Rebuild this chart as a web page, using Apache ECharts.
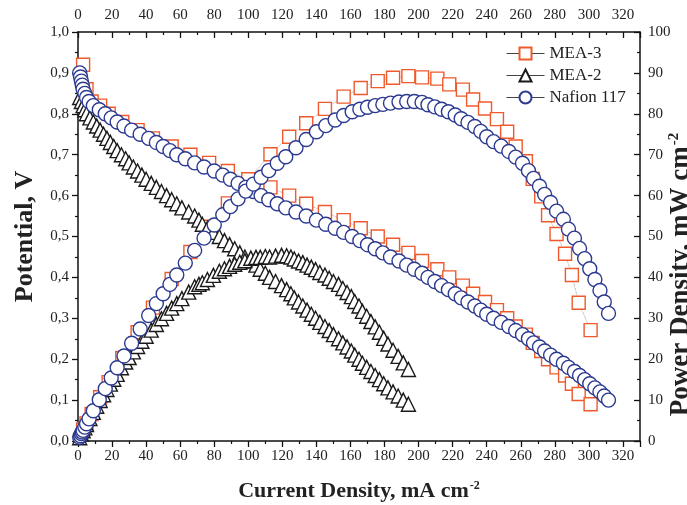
<!DOCTYPE html>
<html>
<head>
<meta charset="utf-8">
<script src="https://cdn.jsdelivr.net/npm/echarts@6/dist/echarts.min.js"></script>
<style>
html, body { margin: 0; padding: 0; background: #fff; }
#chart { width: 687px; height: 505px; }
</style>
</head>
<body>
<div id="chart"></div>
<script>
// tick labels
var xTickLabels = [0, 20, 40, 60, 80, 100, 120, 140, 160, 180, 200, 220, 240, 260, 280, 300, 320];
var leftTickLabels = ['0,0', '0,1', '0,2', '0,3', '0,4', '0,5', '0,6', '0,7', '0,8', '0,9', '1,0'];
var rightTickLabels = [0, 10, 20, 30, 40, 50, 60, 70, 80, 90, 100];

// MEA-3 (squares)
var mea3Current = [3, 5, 8, 13, 18, 26, 35, 44, 55, 66, 77, 88, 100, 113, 124, 134, 145, 156, 166, 176,
    185, 194, 202, 211, 218, 226, 232, 239, 246, 252, 257, 263, 267, 272, 276, 281, 286, 290, 294, 301];
var mea3Potential = [0.92, 0.86, 0.83, 0.82, 0.80, 0.78, 0.76, 0.74, 0.72, 0.70, 0.68, 0.66, 0.64, 0.62, 0.60, 0.58, 0.56, 0.54, 0.52, 0.50,
    0.48, 0.46, 0.44, 0.42, 0.40, 0.38, 0.36, 0.34, 0.32, 0.30, 0.28, 0.26, 0.24, 0.22, 0.20, 0.18, 0.16, 0.14, 0.115, 0.09];
var mea3Power = [2.8, 4.3, 6.6, 10.7, 14.4, 20.3, 26.6, 32.6, 39.6, 46.2, 52.4, 58.1, 64.0, 70.1, 74.4, 77.7, 81.2, 84.2, 86.3, 88.0,
    88.8, 89.2, 88.9, 88.6, 87.2, 85.9, 83.5, 81.3, 78.7, 75.6, 72.0, 68.4, 64.1, 59.8, 55.2, 50.6, 45.8, 40.6, 33.8, 27.1];

// MEA-2 (triangles)
var mea2Current = [1, 2, 3, 4, 5, 7, 9, 11, 13, 15, 17, 19, 21, 23, 25.5, 28, 30, 32.5, 35, 37.5,
    40, 43, 46, 49, 52, 55, 58, 61, 65, 68.5, 71, 73, 76, 79.5, 83, 86, 89, 92, 95, 98,
    101.5, 104.5, 107, 110, 112.5, 116, 119.5, 122.5, 125, 127, 129.5, 132, 134.5, 137, 139.5, 142, 145, 147.5, 150, 153,
    155.5, 158, 160.5, 162.5, 165, 167, 169.5, 172, 174.5, 177, 179.5, 182, 185, 188, 191, 194];
var mea2Potential = [0.84, 0.83, 0.82, 0.81, 0.80, 0.79, 0.78, 0.77, 0.76, 0.75, 0.74, 0.73, 0.72, 0.71, 0.70, 0.69, 0.68, 0.67, 0.66, 0.65,
    0.64, 0.63, 0.62, 0.61, 0.60, 0.59, 0.58, 0.57, 0.56, 0.55, 0.54, 0.53, 0.52, 0.51, 0.50, 0.49, 0.48, 0.47, 0.46, 0.45,
    0.44, 0.43, 0.42, 0.41, 0.40, 0.39, 0.38, 0.37, 0.36, 0.35, 0.34, 0.33, 0.32, 0.31, 0.30, 0.29, 0.28, 0.27, 0.26, 0.25,
    0.24, 0.23, 0.22, 0.21, 0.20, 0.19, 0.18, 0.17, 0.16, 0.15, 0.14, 0.13, 0.12, 0.11, 0.10, 0.09];
var mea2Power = [0.8, 1.7, 2.5, 3.2, 4.0, 5.5, 7.0, 8.5, 9.9, 11.3, 12.6, 13.9, 15.1, 16.3, 17.9, 19.3, 20.4, 21.8, 23.1, 24.4,
    25.6, 27.1, 28.5, 29.9, 31.2, 32.5, 33.6, 34.8, 36.4, 37.7, 38.3, 38.7, 39.5, 40.5, 41.5, 42.1, 42.7, 43.2, 43.7, 44.1,
    44.7, 44.9, 44.9, 45.1, 45.0, 45.2, 45.4, 45.3, 45.0, 44.5, 44.0, 43.6, 43.0, 42.5, 41.9, 41.2, 40.6, 39.8, 39.0, 38.3,
    37.3, 36.3, 35.3, 34.1, 33.0, 31.7, 30.5, 29.2, 27.9, 26.6, 25.1, 23.7, 22.2, 20.7, 19.1, 17.5];

// Nafion 117 (circles)
var nafionCurrent = [1, 1.5, 2, 2.5, 3, 4, 5, 6.5, 9, 12.5, 16, 19.5, 23, 27, 31.5, 36.5, 41.5, 46, 50, 54,
    58, 63, 68.5, 74, 80, 85, 89.5, 94, 98.5, 103, 107.5, 112, 117, 122, 128, 134, 140, 145.5, 151, 156,
    161, 165.5, 170, 174.5, 179, 183.5, 188.5, 193, 197.5, 202, 205.5, 209.5, 213.5, 217.5, 221.5, 225, 229, 233, 236.5, 240,
    244, 248.5, 253, 257, 261, 264.5, 267.5, 271, 274, 277.5, 281, 285, 288, 291.5, 294.5, 297.5, 300.5, 303.5, 306.5, 309, 311.5];
var nafionPotential = [0.90, 0.89, 0.88, 0.87, 0.86, 0.85, 0.84, 0.83, 0.82, 0.81, 0.80, 0.79, 0.78, 0.77, 0.76, 0.75, 0.74, 0.73, 0.72, 0.71,
    0.70, 0.69, 0.68, 0.67, 0.66, 0.65, 0.64, 0.63, 0.62, 0.61, 0.60, 0.59, 0.58, 0.57, 0.56, 0.55, 0.54, 0.53, 0.52, 0.51,
    0.50, 0.49, 0.48, 0.47, 0.46, 0.45, 0.44, 0.43, 0.42, 0.41, 0.40, 0.39, 0.38, 0.37, 0.36, 0.35, 0.34, 0.33, 0.32, 0.31,
    0.30, 0.29, 0.28, 0.27, 0.26, 0.25, 0.24, 0.23, 0.22, 0.21, 0.20, 0.19, 0.18, 0.17, 0.16, 0.15, 0.14, 0.13, 0.12, 0.11, 0.10];
var nafionPower = [0.9, 1.3, 1.8, 2.2, 2.6, 3.4, 4.2, 5.4, 7.4, 10.1, 12.8, 15.4, 17.9, 20.8, 23.9, 27.4, 30.7, 33.6, 36.0, 38.3,
    40.6, 43.5, 46.6, 49.6, 52.8, 55.3, 57.3, 59.2, 61.1, 62.8, 64.5, 66.1, 67.9, 69.5, 71.7, 73.7, 75.6, 77.1, 78.5, 79.6,
    80.5, 81.1, 81.6, 82.0, 82.3, 82.6, 82.9, 83.0, 83.0, 82.8, 82.2, 81.7, 81.1, 80.5, 79.7, 78.8, 77.9, 76.9, 75.7, 74.4,
    73.2, 72.1, 70.8, 69.4, 67.9, 66.1, 64.2, 62.3, 60.3, 58.3, 56.2, 54.2, 51.8, 49.6, 47.1, 44.6, 42.1, 39.5, 36.8, 34.0, 31.2];

var serif = 'Liberation Serif';
var supStyle = { fontFamily: serif, fontWeight: 'bold', fontSize: 12, verticalAlign: 'top', padding: [0, 0, 11, 1] };
var supStyleBig = { fontFamily: serif, fontWeight: 'bold', fontSize: 15, verticalAlign: 'top', padding: [0, 0, 13, 1] };

function pairs(xs, ys) {
    return xs.map(function (x, i) { return [x, ys[i]]; });
}

function makeSeries(name, symbol, size, color, yIndex, xs, ys) {
    return {
        name: name,
        type: 'line',
        yAxisIndex: yIndex,
        symbol: symbol,
        symbolSize: size,
        showAllSymbol: true,
        itemStyle: { color: '#fff', borderColor: color, borderWidth: 1.4 },
        lineStyle: { width: 0.7, type: 'dotted', color: '#777' },
        data: pairs(xs, ys)
    };
}

var axisLine = { show: true, onZero: false, lineStyle: { color: '#111', width: 1.5 } };

function xAxisCfg(pos) {
    var top = pos === 'top';
    return {
        type: 'value',
        position: pos,
        min: 0,
        max: 330,
        interval: 20,
        axisLine: axisLine,
        axisTick: { show: true, inside: top, length: 6, lineStyle: { color: '#111', width: 1.3 } },
        minorTick: { show: true, splitNumber: 2, length: 3, lineStyle: { color: '#111', width: 1.2 } },
        axisLabel: { showMaxLabel: false, margin: top ? 9 : 8, fontFamily: serif, fontSize: 15, color: '#222',
            formatter: function (v) { return xTickLabels.indexOf(v) >= 0 ? String(v) : ''; } },
        splitLine: { show: false },
        name: top ? '' : 'Current Density, mA cm{sup|-2}',
        nameLocation: 'middle',
        nameGap: 39,
        nameTextStyle: { fontFamily: serif, fontWeight: 'bold', fontSize: 22, color: '#222', rich: { sup: supStyle } }
    };
}

var chart = echarts.init(document.getElementById('chart'));

chart.setOption({
    animation: false,
    grid: { left: 78, right: 47, top: 32, bottom: 64, outerBoundsMode: 'none' },
    legend: {
        orient: 'vertical',
        left: 501,
        top: 40,
        itemWidth: 38,
        itemHeight: 15,
        itemGap: 5,
        textStyle: { fontFamily: serif, fontSize: 17, color: '#222' },
        lineStyle: { color: '#444', width: 1, type: 'solid', opacity: 1 },
        data: ['MEA-3', 'MEA-2', 'Nafion 117']
    },
    xAxis: [xAxisCfg('bottom'), xAxisCfg('top')],
    yAxis: [
        {
            type: 'value',
            position: 'left',
            min: 0, max: 1, interval: 0.1,
            axisLine: axisLine,
            axisTick: { show: true, length: 6, lineStyle: { color: '#111', width: 1.3 } },
            minorTick: { show: true, splitNumber: 2, length: 3, lineStyle: { color: '#111', width: 1.2 } },
            axisLabel: { margin: 9, fontFamily: serif, fontSize: 15, color: '#222',
                formatter: function (v) { return leftTickLabels[Math.round(v * 10)]; } },
            splitLine: { show: false },
            name: 'Potential, V',
            nameLocation: 'middle',
            nameGap: 40,
            nameMoveOverlap: false,
            nameTextStyle: { fontFamily: serif, fontWeight: 'bold', fontSize: 26, color: '#222' }
        },
        {
            type: 'value',
            position: 'right',
            min: 0, max: 100, interval: 10,
            axisLine: axisLine,
            axisTick: { show: true, inside: true, length: 6, lineStyle: { color: '#111', width: 1.3 } },
            minorTick: { show: true, splitNumber: 2, length: 3, lineStyle: { color: '#111', width: 1.2 } },
            axisLabel: { margin: 8, fontFamily: serif, fontSize: 15, color: '#222',
                formatter: function (v) { return String(rightTickLabels[Math.round(v / 10)]); } },
            splitLine: { show: false },
            name: 'Power Density, mW cm{sup|-2}',
            nameLocation: 'middle',
            nameGap: 27,
            nameMoveOverlap: false,
            nameTextStyle: { fontFamily: serif, fontWeight: 'bold', fontSize: 27, color: '#222',
                padding: [0, 76, 0, 0], rich: { sup: supStyleBig } }
        }
    ],
    series: [
        makeSeries('MEA-3', 'rect', 13, '#ef5a2c', 0, mea3Current, mea3Potential),
        makeSeries('MEA-3', 'rect', 13, '#ef5a2c', 1, mea3Current, mea3Power),
        makeSeries('MEA-2', 'triangle', 14, '#1a1a1a', 0, mea2Current, mea2Potential),
        makeSeries('MEA-2', 'triangle', 14, '#1a1a1a', 1, mea2Current, mea2Power),
        makeSeries('Nafion 117', 'circle', 14, '#2b3990', 0, nafionCurrent, nafionPotential),
        makeSeries('Nafion 117', 'circle', 14, '#2b3990', 1, nafionCurrent, nafionPower)
    ]
});
</script>
</body>
</html>
